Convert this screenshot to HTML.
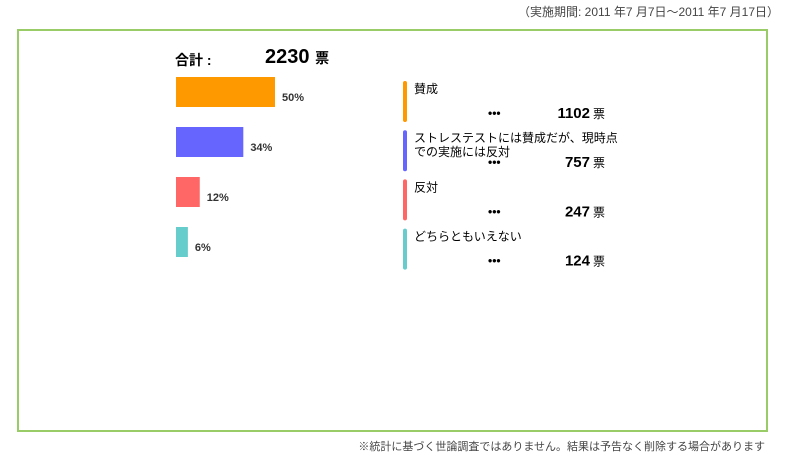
<!DOCTYPE html>
<html><head><meta charset="utf-8"><style>
body{margin:0;width:785px;height:458px;background:#fff;font-family:"Liberation Sans","Noto Sans CJK JP",sans-serif;position:relative;overflow:hidden;color:#000}
.a{position:absolute;white-space:nowrap}
</style></head><body>
<div class="a" style="right:6px;top:3px;font-size:12px;color:#444">（実施期間: 2011 年7 月7日～2011 年7 月17日）</div>
<div class="a" style="left:17px;top:29px;width:747px;height:399px;border:2px solid #99cc66"></div>
<div class="a" style="left:175px;top:50px;font-size:14px;font-weight:bold">合計 :</div>
<div class="a" style="left:265px;top:46px;font-size:20px;font-weight:bold">2230 <span style="font-size:14px">票</span></div>
<svg id="chart" class="a" style="left:0;top:0" width="785" height="458"></svg>
<div class="a" style="right:20px;top:438px;font-size:11px;color:#444">※統計に基づく世論調査ではありません。結果は予告なく削除する場合があります</div>
<script>
const categories=["賛成","ストレステストには賛成だが、現時点|での実施には反対","反対","どちらともいえない"];
const votes=[1102,757,247,124];
const percents=[50,34,12,6];
const colors=["#ff9900","#6666ff","#ff6666","#66cccc"];
const svg=document.getElementById('chart');
const NS="http://www.w3.org/2000/svg";
const x0=176,pxPerPct=1.98,y0=77,step=50,bh=30;
function xs(p){return p*pxPerPct;}
function ys(i){return y0+i*step;}
function mk(t,a){const e=document.createElementNS(NS,t);for(const k in a)e.setAttribute(k,a[k]);svg.appendChild(e);return e;}
categories.forEach((c,i)=>{
  const r=mk('rect',{x:x0,y:ys(i),width:xs(percents[i]),height:bh,fill:colors[i]});
  
  
  const t=mk('text',{x:x0+xs(percents[i])+7,y:ys(i)+24,'font-size':11,'font-weight':'bold',fill:'#333'});
  t.textContent=percents[i]+'%';
  
  
  const ly=81+i*49.2;
  const s=mk('rect',{x:403,y:ly,width:4,height:41,rx:2,fill:colors[i]});
  
  
  c.split('|').forEach((line,j)=>{
    const lt=mk('text',{x:414,y:ly+12+j*14,'font-size':12});
    lt.textContent=line;
    
    
  });
  const d=mk('text',{x:488,y:ly+36,'font-size':12,'font-weight':'bold'});
  d.textContent='•••';
  
  
  const v=mk('text',{x:590,y:ly+37,'font-size':15,'font-weight':'bold','text-anchor':'end'});
  v.textContent=votes[i];
  
  
  const u=mk('text',{x:593,y:ly+37,'font-size':12});
  u.textContent='票';
  
  
});
</script>
</body></html>
